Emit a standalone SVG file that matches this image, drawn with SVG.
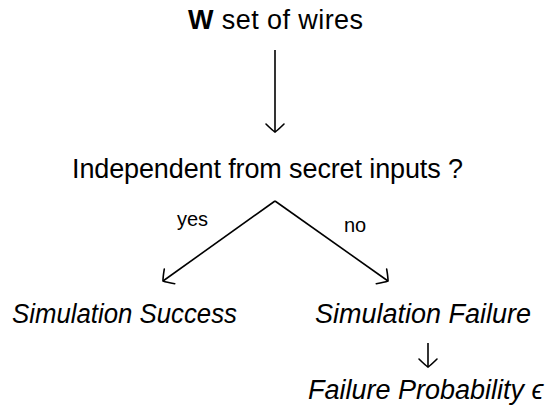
<svg xmlns="http://www.w3.org/2000/svg" width="549" height="408" viewBox="0 0 549 408">
<style>
text{font-family:"Liberation Sans",Arial,sans-serif;fill:#000}
.main{font-size:27px}
.it{font-size:27px;font-style:italic}
.lbl{font-size:20px}
.conn{stroke:#000;stroke-width:1.6;fill:none}
</style>
<defs>
<marker id="arr" markerUnits="userSpaceOnUse" viewBox="-12 -12 14 24" markerWidth="14" markerHeight="24" refX="0" refY="0" orient="auto" overflow="visible">
<path d="M-8,-9 Q-2,-3 0,0 Q-2,3 -8,9" fill="none" stroke="#000" stroke-width="1.6" stroke-linecap="round"/>
</marker>
</defs>
<rect width="549" height="408" fill="#fff"/>
<g id="connectors">
<line class="conn" x1="275" y1="50" x2="275" y2="132" marker-end="url(#arr)"/>
<line class="conn" x1="275" y1="201" x2="163" y2="281" marker-end="url(#arr)"/>
<line class="conn" x1="275" y1="201" x2="388" y2="281" marker-end="url(#arr)"/>
<line class="conn" x1="428" y1="343" x2="428" y2="367" marker-end="url(#arr)"/>
<text class="lbl" x="177" y="226">yes</text>
<text class="lbl" x="344" y="232">no</text>
</g>
<g id="wires">
<text class="main" x="188" y="29" textLength="175" lengthAdjust="spacing"><tspan font-weight="bold">W</tspan> set of wires</text>
</g>
<g id="question">
<text class="main" x="72" y="178" textLength="391" lengthAdjust="spacing">Independent from secret inputs ?</text>
</g>
<g id="success">
<text class="it" x="12" y="323" textLength="225" lengthAdjust="spacingAndGlyphs">Simulation Success</text>
</g>
<g id="failure">
<text class="it" x="315" y="323">Simulation Failure</text>
</g>
<g id="probability">
<text class="it" x="308" y="399">Failure Probability ϵ</text>
</g>
</svg>
